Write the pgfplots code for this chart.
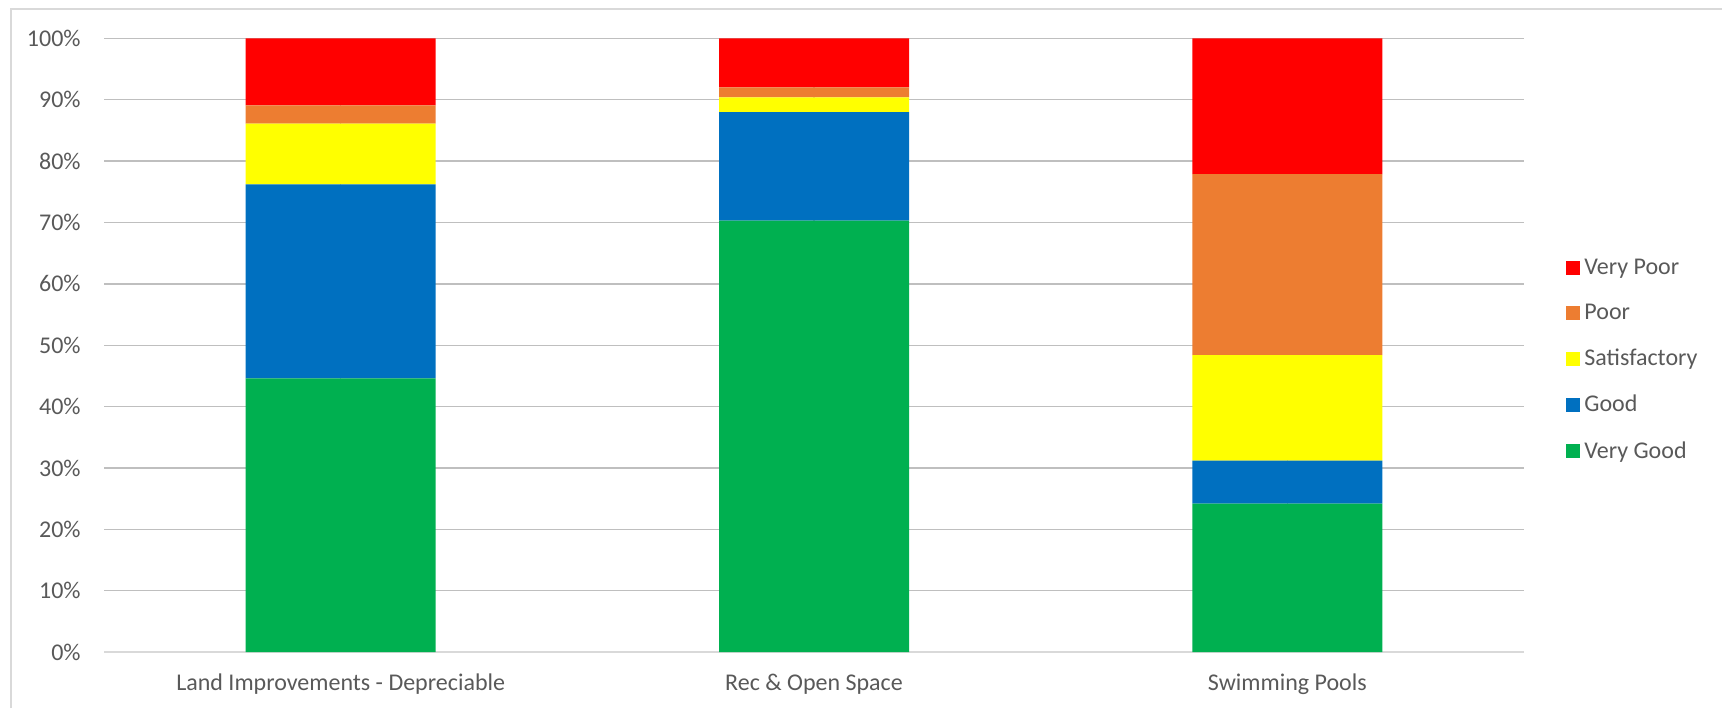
\documentclass[border=0pt]{standalone}
\usepackage{pgfplots}
\pgfplotsset{compat=1.18}
\usepackage{fontspec}
\setmainfont{Carlito}
\definecolor{cVP}{HTML}{FF0000}
\definecolor{cP}{HTML}{ED7D31}
\definecolor{cS}{HTML}{FFFF00}
\definecolor{cG}{HTML}{0070C0}
\definecolor{cVG}{HTML}{00B050}
\definecolor{txt}{HTML}{595959}
\definecolor{grid}{HTML}{D9D9D9}
\begin{document}
\begin{tikzpicture}
\useasboundingbox (0,0) rectangle (861pt,354pt);
\draw[grid, line width=0.7pt] (5.5pt,0) -- (5.5pt,349.5pt) -- (861pt,349.5pt);
\begin{axis}[
  at={(52pt,28pt)}, anchor=south west,
  scale only axis, width=710pt, height=306.8pt,
  ybar stacked, bar width=95pt,
  xmin=-0.5, xmax=2.5, ymin=0, ymax=100,
  xtick={0,1,2},
  xticklabels={Land Improvements - Depreciable, Rec \& Open Space, Swimming Pools},
  ytick={0,10,...,100},
  yticklabels={0\%,10\%,20\%,30\%,40\%,50\%,60\%,70\%,80\%,90\%,100\%},
  major tick length=0pt,
  axis x line*=bottom, axis y line*=left,
  x axis line style={grid, line width=0.7pt, -},
  y axis line style={draw=none},
  ymajorgrids, grid style={grid, line width=0.7pt},
  tick label style={font=\fontsize{12}{14}\selectfont, text=txt},
  xticklabel style={anchor=base, yshift=-19pt, inner sep=0pt},
  yticklabel style={anchor=east, inner sep=0pt, xshift=-11.5pt},
  legend style={at={(731pt,146pt)}, anchor=west, draw=none, fill=none,
    font=\fontsize{12}{14}\selectfont, text=txt,
    row sep=9.3pt, inner sep=0pt,
    cells={anchor=west}},
  legend cell align=left,
  reverse legend,
  legend image code/.code={\fill[#1] (0pt,-3.5pt) rectangle (7pt,3.5pt);},
]
\addplot[fill=cVG, draw=none] coordinates {(0,44.6) (1,70.3) (2,24.2)};
\addlegendentry{Very Good}
\addplot[fill=cG, draw=none] coordinates {(0,31.6) (1,17.7) (2,7.0)};
\addlegendentry{Good}
\addplot[fill=cS, draw=none] coordinates {(0,9.9) (1,2.4) (2,17.2)};
\addlegendentry{Satisfactory}
\addplot[fill=cP, draw=none] coordinates {(0,3.0) (1,1.6) (2,29.5)};
\addlegendentry{Poor}
\addplot[fill=cVP, draw=none] coordinates {(0,10.9) (1,8.0) (2,22.1)};
\addlegendentry{Very Poor}
\end{axis}
\end{tikzpicture}
\end{document}
